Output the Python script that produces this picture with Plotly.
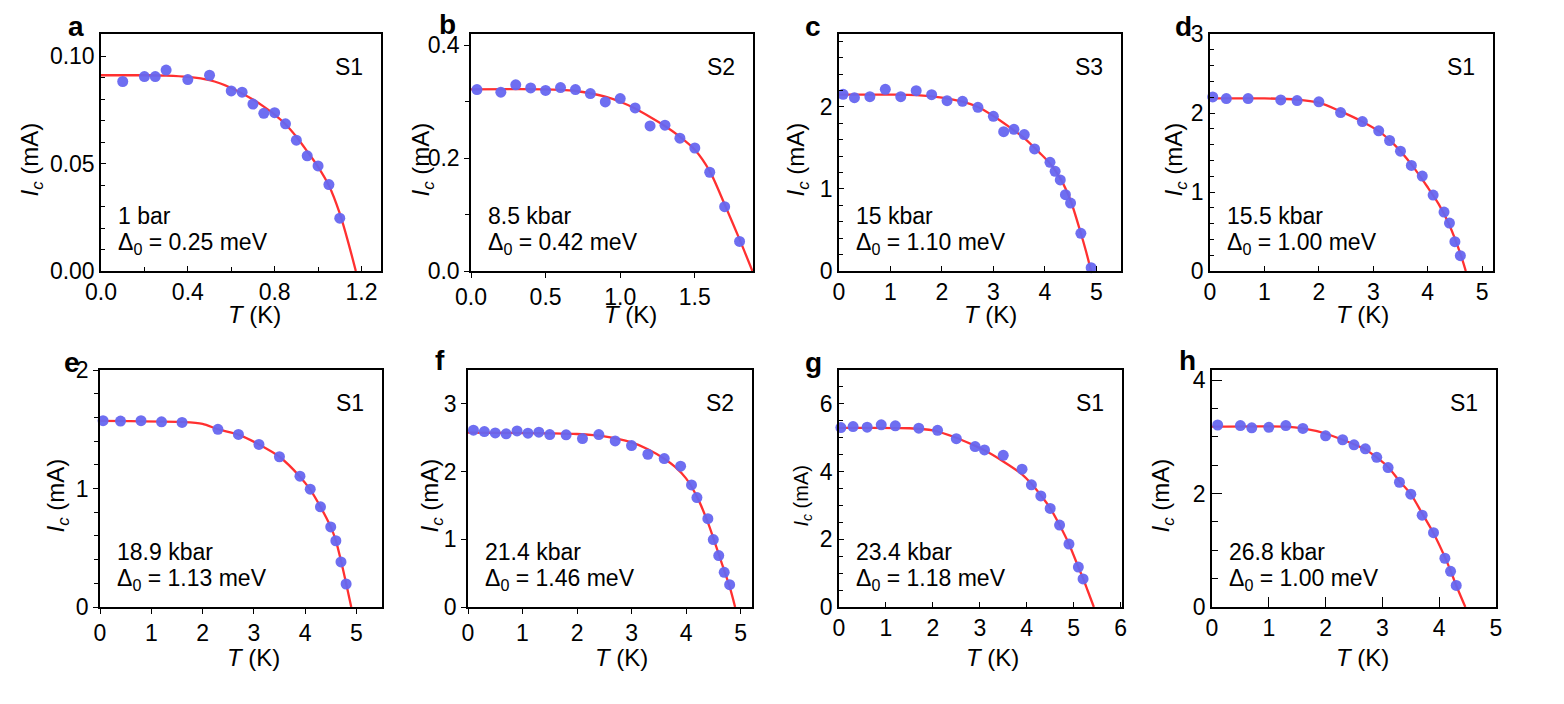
import plotly.graph_objects as go

# page body has an 8px margin: the figure is drawn 8px in from the window corner
OFF = 8
W, H = 1564 - 2 * OFF, 704 - 2 * OFF

# ---------------- data ----------------
T_a = [0.1, 0.2, 0.25, 0.3, 0.4, 0.5, 0.6, 0.65, 0.7, 0.75, 0.8, 0.85, 0.9, 0.95, 1.0, 1.05, 1.1]
Ic_a = [0.0882, 0.0905, 0.0905, 0.0935, 0.0891, 0.0911, 0.0838, 0.0832, 0.0777, 0.0734, 0.0737,
        0.0685, 0.0609, 0.0536, 0.0489, 0.0402, 0.0246]
fitT_a = [0, 0.2, 0.3, 0.4, 0.5, 0.6, 0.7, 0.75, 0.8, 0.85, 0.9, 0.95, 1.0, 1.05, 1.1, 1.14, 1.174]
fitIc_a = [0.0911, 0.0911, 0.0909, 0.0903, 0.0888, 0.0852, 0.0798, 0.0765, 0.0728, 0.0683, 0.0625,
           0.0557, 0.0485, 0.0398, 0.0268, 0.0130, 0.0]

T_b = [0.04, 0.2, 0.3, 0.4, 0.5, 0.6, 0.7, 0.8, 0.9, 1.0, 1.1, 1.2, 1.3, 1.4, 1.5, 1.6, 1.7, 1.8]
Ic_b = [0.3215, 0.3168, 0.330, 0.3245, 0.320, 0.325, 0.3215, 0.3145, 0.2997, 0.3056, 0.289, 0.257,
        0.2584, 0.2354, 0.218, 0.175, 0.1139, 0.0525]
fitT_b = [0, 0.5, 0.6, 0.7, 0.8, 0.9, 1.0, 1.1, 1.2, 1.3, 1.4, 1.5, 1.6, 1.7, 1.8, 1.886]
fitIc_b = [0.322, 0.322, 0.321, 0.319, 0.315, 0.309, 0.300, 0.288, 0.273, 0.257, 0.238, 0.215,
           0.177, 0.118, 0.056, 0.0]

T_c = [0.08, 0.3, 0.6, 0.9, 1.2, 1.5, 1.8, 2.1, 2.4, 2.7, 3.0, 3.2, 3.4, 3.6, 3.8, 4.1, 4.2, 4.3,
       4.4, 4.5, 4.7, 4.9]
Ic_c = [2.154, 2.114, 2.126, 2.215, 2.126, 2.199, 2.150, 2.077, 2.069, 1.996, 1.886, 1.699, 1.728,
        1.663, 1.488, 1.325, 1.215, 1.11, 0.931, 0.829, 0.459, 0.04]
fitT_c = [0, 1.0, 1.5, 2.0, 2.4, 2.7, 3.0, 3.3, 3.6, 3.9, 4.1, 4.3, 4.5, 4.7, 4.8, 4.9]
fitIc_c = [2.15, 2.15, 2.145, 2.115, 2.065, 2.0, 1.89, 1.76, 1.62, 1.44, 1.31, 1.13, 0.86, 0.46,
           0.24, 0.0]

T_d = [0.05, 0.3, 0.7, 1.3, 1.6, 2.0, 2.4, 2.8, 3.1, 3.3, 3.5, 3.7, 3.9, 4.1, 4.3, 4.4, 4.5, 4.6]
Ic_d = [2.204, 2.183, 2.183, 2.166, 2.158, 2.141, 2.006, 1.892, 1.774, 1.652, 1.517, 1.336, 1.201,
        0.961, 0.746, 0.607, 0.371, 0.194]
fitT_d = [0, 1.0, 1.6, 2.0, 2.4, 2.8, 3.1, 3.4, 3.7, 4.0, 4.2, 4.4, 4.6, 4.7]
fitIc_d = [2.185, 2.185, 2.17, 2.13, 2.02, 1.89, 1.77, 1.59, 1.35, 1.06, 0.85, 0.58, 0.22, 0.0]

T_e = [0.06, 0.4, 0.8, 1.2, 1.6, 2.3, 2.7, 3.1, 3.5, 3.9, 4.1, 4.3, 4.5, 4.6, 4.7, 4.8]
Ic_e = [1.572, 1.569, 1.572, 1.563, 1.558, 1.499, 1.456, 1.372, 1.268, 1.104, 0.994, 0.845, 0.676,
        0.559, 0.380, 0.194]
fitT_e = [0, 1.6, 2.0, 2.3, 2.7, 3.1, 3.5, 3.9, 4.1, 4.3, 4.5, 4.6, 4.7, 4.8, 4.9]
fitIc_e = [1.57, 1.56, 1.545, 1.50, 1.455, 1.372, 1.268, 1.10, 0.99, 0.845, 0.676, 0.56, 0.39, 0.20,
           0.0]

T_f = [0.1, 0.3, 0.5, 0.7, 0.9, 1.1, 1.3, 1.5, 1.8, 2.1, 2.4, 2.7, 3.0, 3.3, 3.6, 3.9, 4.1, 4.2,
       4.4, 4.5, 4.6, 4.7, 4.8]
Ic_f = [2.611, 2.591, 2.571, 2.557, 2.601, 2.567, 2.581, 2.547, 2.542, 2.488, 2.547, 2.453, 2.384,
        2.256, 2.192, 2.079, 1.803, 1.616, 1.305, 0.995, 0.759, 0.512, 0.330]
fitT_f = [0, 1.5, 2.0, 2.5, 3.0, 3.3, 3.6, 3.8, 4.0, 4.2, 4.4, 4.5, 4.6, 4.7, 4.8, 4.9]
fitIc_f = [2.575, 2.565, 2.555, 2.52, 2.43, 2.33, 2.19, 2.07, 1.90, 1.63, 1.25, 1.02, 0.78, 0.54,
           0.30, 0.0]

T_g = [0.04, 0.3, 0.6, 0.9, 1.2, 1.7, 2.1, 2.5, 2.9, 3.1, 3.5, 3.9, 4.1, 4.3, 4.5, 4.7, 4.9, 5.1, 5.2]
Ic_g = [5.30, 5.33, 5.31, 5.38, 5.35, 5.28, 5.22, 4.97, 4.74, 4.64, 4.48, 4.07, 3.61, 3.28, 2.91,
        2.42, 1.86, 1.18, 0.83]
fitT_g = [0, 1.5, 2.0, 2.5, 2.9, 3.1, 3.5, 3.9, 4.1, 4.3, 4.5, 4.7, 4.9, 5.1, 5.2, 5.3, 5.43]
fitIc_g = [5.29, 5.28, 5.22, 5.0, 4.76, 4.63, 4.30, 3.92, 3.64, 3.30, 2.92, 2.42, 1.86, 1.18, 0.85,
           0.48, 0.0]

T_h = [0.1, 0.5, 0.7, 1.0, 1.3, 1.6, 2.0, 2.3, 2.5, 2.7, 2.9, 3.1, 3.3, 3.5, 3.7, 3.9, 4.1, 4.2, 4.3]
Ic_h = [3.21, 3.20, 3.16, 3.17, 3.20, 3.15, 3.02, 2.95, 2.86, 2.79, 2.64, 2.46, 2.20, 1.99, 1.62,
        1.31, 0.86, 0.63, 0.38]
fitT_h = [0, 1.3, 1.6, 2.0, 2.3, 2.5, 2.7, 2.9, 3.1, 3.3, 3.5, 3.7, 3.9, 4.1, 4.2, 4.3, 4.46]
fitIc_h = [3.18, 3.18, 3.15, 3.06, 2.95, 2.87, 2.78, 2.64, 2.47, 2.22, 1.99, 1.65, 1.30, 0.88, 0.64,
           0.38, 0.0]

panel_letters = ["a", "b", "c", "d", "e", "f", "g", "h"]
sample_labels = ["S1", "S2", "S3", "S1", "S1", "S2", "S1", "S1"]
pressure_labels = ["1 bar", "8.5 kbar", "15 kbar", "15.5 kbar", "18.9 kbar", "21.4 kbar",
                   "23.4 kbar", "26.8 kbar"]
gap_labels = ["0.25", "0.42", "1.10", "1.00", "1.13", "1.46", "1.18", "1.00"]

series = [(T_a, Ic_a, fitT_a, fitIc_a), (T_b, Ic_b, fitT_b, fitIc_b),
          (T_c, Ic_c, fitT_c, fitIc_c), (T_d, Ic_d, fitT_d, fitIc_d),
          (T_e, Ic_e, fitT_e, fitIc_e), (T_f, Ic_f, fitT_f, fitIc_f),
          (T_g, Ic_g, fitT_g, fitIc_g), (T_h, Ic_h, fitT_h, fitIc_h)]

# ---------------- layout / styling ----------------
FONT = "Liberation Sans, Arial, sans-serif"
FS = 23
MARKER = "#6666f0"
RED = "#ff3030"

# plot boxes in window pixels: (left, right, top, bottom)
boxes = [(101, 381, 34, 271), (471, 753, 34, 271), (839, 1121, 34, 271), (1210, 1493, 34, 271),
         (100, 382, 370, 607), (468, 752, 370, 607), (839, 1122, 370, 607), (1212, 1496, 370, 607)]

axes_cfg = [
    dict(xr=[0, 1.29], xd=0.4, xm=0.2, xf=".1f", yr=[0, 0.1103], yd=0.05, ym=0.01, yf=".2f", td="inside", tl=5, ml=4),
    dict(xr=[0, 1.89], xd=0.5, xm=None, xf=".1f", yr=[0, 0.42], yd=0.2, ym=0.1, yf=".1f", td="outside", tl=5, ml=4),
    dict(xr=[0, 5.48], xd=1, xm=None, xf="d", yr=[0, 2.89], yd=1, ym=0.2, yf="d", td="inside", tl=5, ml=4),
    dict(xr=[0, 5.2], xd=1, xm=None, xf="d", yr=[0, 3], yd=1, ym=0.2, yf="d", td="inside", tl=5, ml=4),
    dict(xr=[0, 5.5], xd=1, xm=None, xf="d", yr=[0, 2], yd=1, ym=0.2, yf="d", td="outside", tl=5, ml=4),
    dict(xr=[0, 5.21], xd=1, xm=None, xf="d", yr=[0, 3.5], yd=1, ym=None, yf="d", td="outside", tl=5, ml=4),
    dict(xr=[0, 6.03], xd=1, xm=None, xf="d", yr=[0, 7], yd=2, ym=0.5, yf="d", td="inside", tl=5, ml=4),
    dict(xr=[0, 5.0], xd=1, xm=None, xf="d", yr=[0, 4.18], yd=2, ym=0.5, yf="d", td="inside", tl=10, ml=6),
]

letter_pos = [(76, 26), (447, 24), (813, 26), (1183, 26), (72, 362), (440, 360), (813, 362), (1187, 360)]
ytitle_x = [31, 422, 797, 1175, 57, 431, 802, 1162]
xtitle_x = [254, 630, 990, 1362, 253, 621, 992, 1362]


def px(x):
    return (x - OFF) / W


def py(y):
    return 1 - (y - OFF) / H


fig = go.Figure()
layout = dict(width=W, height=H, margin=dict(l=0, r=0, t=0, b=0, autoexpand=False),
              template="none",
              paper_bgcolor="white", plot_bgcolor="white", showlegend=False,
              font=dict(family=FONT, size=FS, color="black"))
annotations = []

for i, ((T, Ic, fT, fI), box, cfg) in enumerate(zip(series, boxes, axes_cfg)):
    n = "" if i == 0 else str(i + 1)
    xa, ya = "x" + n, "y" + n
    left, right, top, bottom = box

    fig.add_trace(go.Scatter(x=fT, y=fI, mode="lines", xaxis=xa, yaxis=ya,
                             line=dict(color=RED, width=2.3, shape="spline", smoothing=0.8),
                             hoverinfo="skip"))
    fig.add_trace(go.Scatter(x=T, y=Ic, mode="markers", xaxis=xa, yaxis=ya, cliponaxis=False,
                             marker=dict(color=MARKER, size=11, opacity=0.95, line=dict(width=0))))

    common = dict(showline=True, mirror=True, linecolor="black", linewidth=1.5, automargin=False,
                  showgrid=False, zeroline=False, ticks=cfg["td"], ticklen=cfg["tl"],
                  tickwidth=1.3, tickcolor="black",
                  tickfont=dict(family=FONT, size=FS, color="black"))
    xax = dict(common, domain=[px(left), px(right)], anchor=ya, range=cfg["xr"],
               tick0=0, dtick=cfg["xd"], tickformat=cfg["xf"])
    if cfg["xm"]:
        xax["minor"] = dict(dtick=cfg["xm"], tick0=0, ticks=cfg["td"], ticklen=cfg["ml"],
                            tickwidth=1.2, tickcolor="black", showgrid=False)
    yax = dict(common, domain=[py(bottom), py(top)], anchor=xa, range=cfg["yr"],
               tick0=0, dtick=cfg["yd"], tickformat=cfg["yf"])
    if cfg["ym"]:
        yax["minor"] = dict(dtick=cfg["ym"], tick0=0, ticks=cfg["td"], ticklen=cfg["ml"],
                            tickwidth=1.2, tickcolor="black", showgrid=False)
    layout["xaxis" + n] = xax
    layout["yaxis" + n] = yax

    lx, ly = letter_pos[i]
    annotations.append(dict(text="<b>%s</b>" % panel_letters[i], x=px(lx), y=py(ly),
                            xref="paper", yref="paper", showarrow=False,
                            xanchor="center", yanchor="middle",
                            font=dict(family=FONT, size=28, color="black")))
    annotations.append(dict(text=sample_labels[i], x=px(right - 16), y=py(top + 33),
                            xref="paper", yref="paper", showarrow=False,
                            xanchor="right", yanchor="middle",
                            font=dict(family=FONT, size=FS, color="black")))
    annotations.append(dict(text=pressure_labels[i], x=px(left + 15), y=py(top + 182),
                            xref="paper", yref="paper", showarrow=False,
                            xanchor="left", yanchor="middle",
                            font=dict(family=FONT, size=FS, color="black")))
    annotations.append(dict(text="Δ<sub>0</sub> = %s meV" % gap_labels[i], x=px(left + 15),
                            y=py(top + 209), xref="paper", yref="paper", showarrow=False,
                            xanchor="left", yanchor="middle",
                            font=dict(family=FONT, size=FS, color="black")))
    annotations.append(dict(text="<i>T</i> (K)", x=px(xtitle_x[i]), y=py(bottom + 43 if i < 4 else bottom + 50),
                            xref="paper", yref="paper", showarrow=False,
                            xanchor="center", yanchor="middle",
                            font=dict(family=FONT, size=FS + 1, color="black")))
    annotations.append(dict(text="<i>I</i><sub><i>c</i></sub> (mA)", x=px(ytitle_x[i]),
                            y=py((top + bottom) / 2 + 7), xref="paper", yref="paper",
                            showarrow=False, textangle=-90, xanchor="center", yanchor="middle",
                            font=dict(family=FONT, size=(20 if i == 6 else FS + 1), color="black")))

layout["annotations"] = annotations
fig.update_layout(**layout)
fig.write_html("out.html")
